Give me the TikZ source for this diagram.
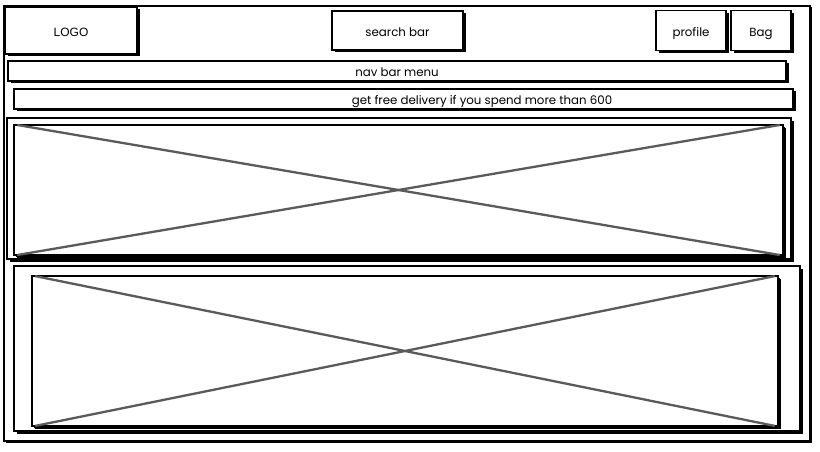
\documentclass[tikz,border=0pt]{standalone}
\usepackage{fontspec}
\setmainfont{Poppins}
\newfontfamily\logofont{Liberation Sans}
\usetikzlibrary{shadows}
\definecolor{crossgray}{HTML}{5A5A5A}
\tikzset{
  x=1pt, y=-1pt,
  label text/.style={font=\fontsize{11.8}{14}\selectfont, text height=12pt, text depth=0pt},
  wire/.style={draw=black, line width=1.9pt, fill=white, rectangle, inner sep=0pt,
    label text,
    drop shadow={shadow xshift=2.5pt, shadow yshift=-2.5pt, fill=black, opacity=1}},
  inner wire/.style={wire, line width=1.4pt,
    drop shadow={shadow xshift=1.5pt, shadow yshift=-1.5pt, fill=black, opacity=1}},
  frame/.style={draw=black, line width=1.3pt, fill=white, rectangle, inner sep=0pt,
    drop shadow={shadow xshift=1.5pt, shadow yshift=-1.5pt, fill=black, opacity=1}},
  cross/.style={draw=crossgray, line width=2.3pt, shorten >=4pt, shorten <=4pt},
}
\begin{document}
\begin{tikzpicture}
\useasboundingbox (0,0) rectangle (820,452);
\fill[white] (0,0) rectangle (820,452);
% page frame
\node[frame, minimum width=806, minimum height=435] (page) at (407,223.5) {};
% header
\node[wire, line width=2.4pt, minimum width=132, minimum height=47] (logo) at (71,30.5) {\logofont\fontsize{12}{14}\selectfont LOGO};
\node[wire, minimum width=131, minimum height=39] (search) at (397.5,30.5) {search bar};
\node[wire, minimum width=70, minimum height=40] (profile) at (691,30.5) {profile};
\node[wire, minimum width=60, minimum height=40] (bag) at (761,30.5) {Bag};
% bars
\node[wire, minimum width=778, minimum height=20] (nav) at (397,71) {nav bar menu};
\node[wire, minimum width=779, minimum height=20] (promo) at (403.5,99) {};
\node[label text, inner sep=0pt] (promotext) at (482,99) {get free delivery if you spend more than 600};
% first banner
\node[wire, minimum width=784, minimum height=141] (banner1) at (399,188.5) {};
\node[inner wire, minimum width=769, minimum height=130] (img1) at (398.5,190) {};
\draw[cross] (img1.north west) -- (img1.south east);
\draw[cross] (img1.south west) -- (img1.north east);
% second banner
\node[wire, minimum width=786, minimum height=165] (banner2) at (407,348.5) {};
\node[inner wire, minimum width=746, minimum height=150] (img2) at (405,351) {};
\draw[cross] (img2.north west) -- (img2.south east);
\draw[cross] (img2.south west) -- (img2.north east);
\end{tikzpicture}
\end{document}
